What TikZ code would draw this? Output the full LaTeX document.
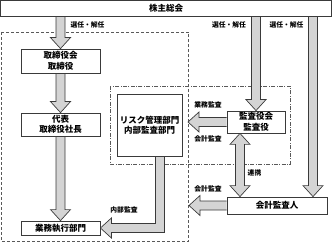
\documentclass[tikz,border=0pt]{standalone}
\usepackage{fontspec}
\setmainfont{Noto Sans CJK JP}
\usetikzlibrary{calc,backgrounds}
\definecolor{arrfill}{HTML}{D4D4D4}
\definecolor{lineclr}{HTML}{3A3A3A}
\tikzset{
  box/.style={draw=lineclr, line width=0.8pt, fill=white, inner sep=0pt, align=center, font=\fontsize{8.5}{10.5}\selectfont\bfseries},
  lbl/.style={inner sep=0pt, font=\fontsize{6.8}{8}\selectfont\bfseries},
  barrow/.style={fill=arrfill, draw=lineclr, line width=0.7pt, line join=miter},
  grp/.style={draw=black!65, line width=0.7pt, dash pattern=on 3pt off 2pt},
  grpdd/.style={draw=black!65, line width=0.7pt, dash pattern=on 4pt off 1.5pt on 0.8pt off 1.5pt},
}
% vertical block arrow, downwards from #1 to tip #2
\newcommand\vblk[2]{\filldraw[barrow] ($(#1)+(-4.5,0)$) -- ($(#2)+(-4.5,-11)$) -- ($(#2)+(-10,-11)$) -- (#2) -- ($(#2)+(10,-11)$) -- ($(#2)+(4.5,-11)$) -- ($(#1)+(4.5,0)$);}
% horizontal block arrow, leftwards from #1 to tip #2
\newcommand\hblk[2]{\filldraw[barrow] ($(#1)+(0,-4.5)$) -- ($(#2)+(11,-4.5)$) -- ($(#2)+(11,-10)$) -- (#2) -- ($(#2)+(11,10)$) -- ($(#2)+(11,4.5)$) -- ($(#1)+(0,4.5)$);}
\begin{document}
\begin{tikzpicture}[x=1pt,y=-1pt]
\useasboundingbox (0,0) rectangle (332,243);

% nodes
\node[box, minimum width=331pt, minimum height=16pt] (top) at (166,8) {株主総会};
\node[box, minimum width=79pt, minimum height=24pt] (A) at (60.5,61) {取締役会\\取締役};
\node[box, minimum width=79pt, minimum height=23pt] (B) at (60.5,124.5) {代表\\取締役社長};
\node[box, minimum width=79pt, minimum height=14pt] (C) at (60.5,228) {業務執行部門};
\node[box, minimum width=65pt, minimum height=62pt] (R) at (149.5,125) {リスク管理部門\\内部監査部門};
\node[box, minimum width=58pt, minimum height=22pt] (K) at (256,122) {監査役会\\監査役};
\node[box, minimum width=100pt, minimum height=17pt] (G) at (277,205.5) {会計監査人};

\coordinate (xl) at (60.5,0);
\coordinate (xk) at (256,0);
\coordinate (xg) at (313,0);
\coordinate (xd) at (240,0);
\coordinate (xr) at (160,0);
\coordinate (a1) at (top.south -| xl);
\coordinate (a4) at (top.south -| xk);
\coordinate (a5) at (top.south -| xg);
\coordinate (a5t) at (G.north -| xg);
\coordinate (d1) at (K.south -| xd);
\coordinate (d2) at (G.north -| xd);
\coordinate (r1) at (R.south -| xr);
\coordinate (r2) at (C.east -| xr);
\coordinate (t1) at (188,122);
\coordinate (t2) at (189,205.5);

% labels
\node[lbl] (l1) at (87.5,25) {選任・解任};
\node[lbl] (l2) at (229,25) {選任・解任};
\node[lbl] (l3) at (286.5,25) {選任・解任};
\node[lbl] (l4) at (208,105) {業務監査};
\node[lbl] (l5) at (208,138.5) {会計監査};
\node[lbl] (l6) at (254.5,173) {連携};
\node[lbl] (l7) at (208,188.5) {会計監査};
\node[lbl] (l8) at (124,210) {内部監査};

\begin{scope}[on background layer]
% group frames
\draw[grp] (1.5,32) rectangle (188,241.5);
\draw[grpdd] (110,86) rectangle (290,164);
% block arrows
\vblk{a1}{A.north}
\vblk{A.south}{B.north}
\vblk{B.south}{C.north}
\vblk{a4}{K.north}
\vblk{a5}{a5t}
\hblk{K.west}{t1}
\hblk{G.west}{t2}
\filldraw[barrow] (d1) -- ($(d1)+(10,11)$) -- ($(d1)+(4.5,11)$) -- ($(d2)+(4.5,-11)$) -- ($(d2)+(10,-11)$) -- (d2) -- ($(d2)+(-10,-11)$) -- ($(d2)+(-4.5,-11)$) -- ($(d1)+(-4.5,11)$) -- ($(d1)+(-10,11)$) -- cycle;
\filldraw[barrow] ($(r1)+(4.5,0)$) -- ($(r2)+(4.5,4.5)$) -- ($(C.east)+(11,4.5)$) -- ($(C.east)+(11,10)$) -- (C.east) -- ($(C.east)+(11,-10)$) -- ($(C.east)+(11,-4.5)$) -- ($(r2)+(-4.5,-4.5)$) -- ($(r1)+(-4.5,0)$);
\end{scope}
\end{tikzpicture}
\end{document}
